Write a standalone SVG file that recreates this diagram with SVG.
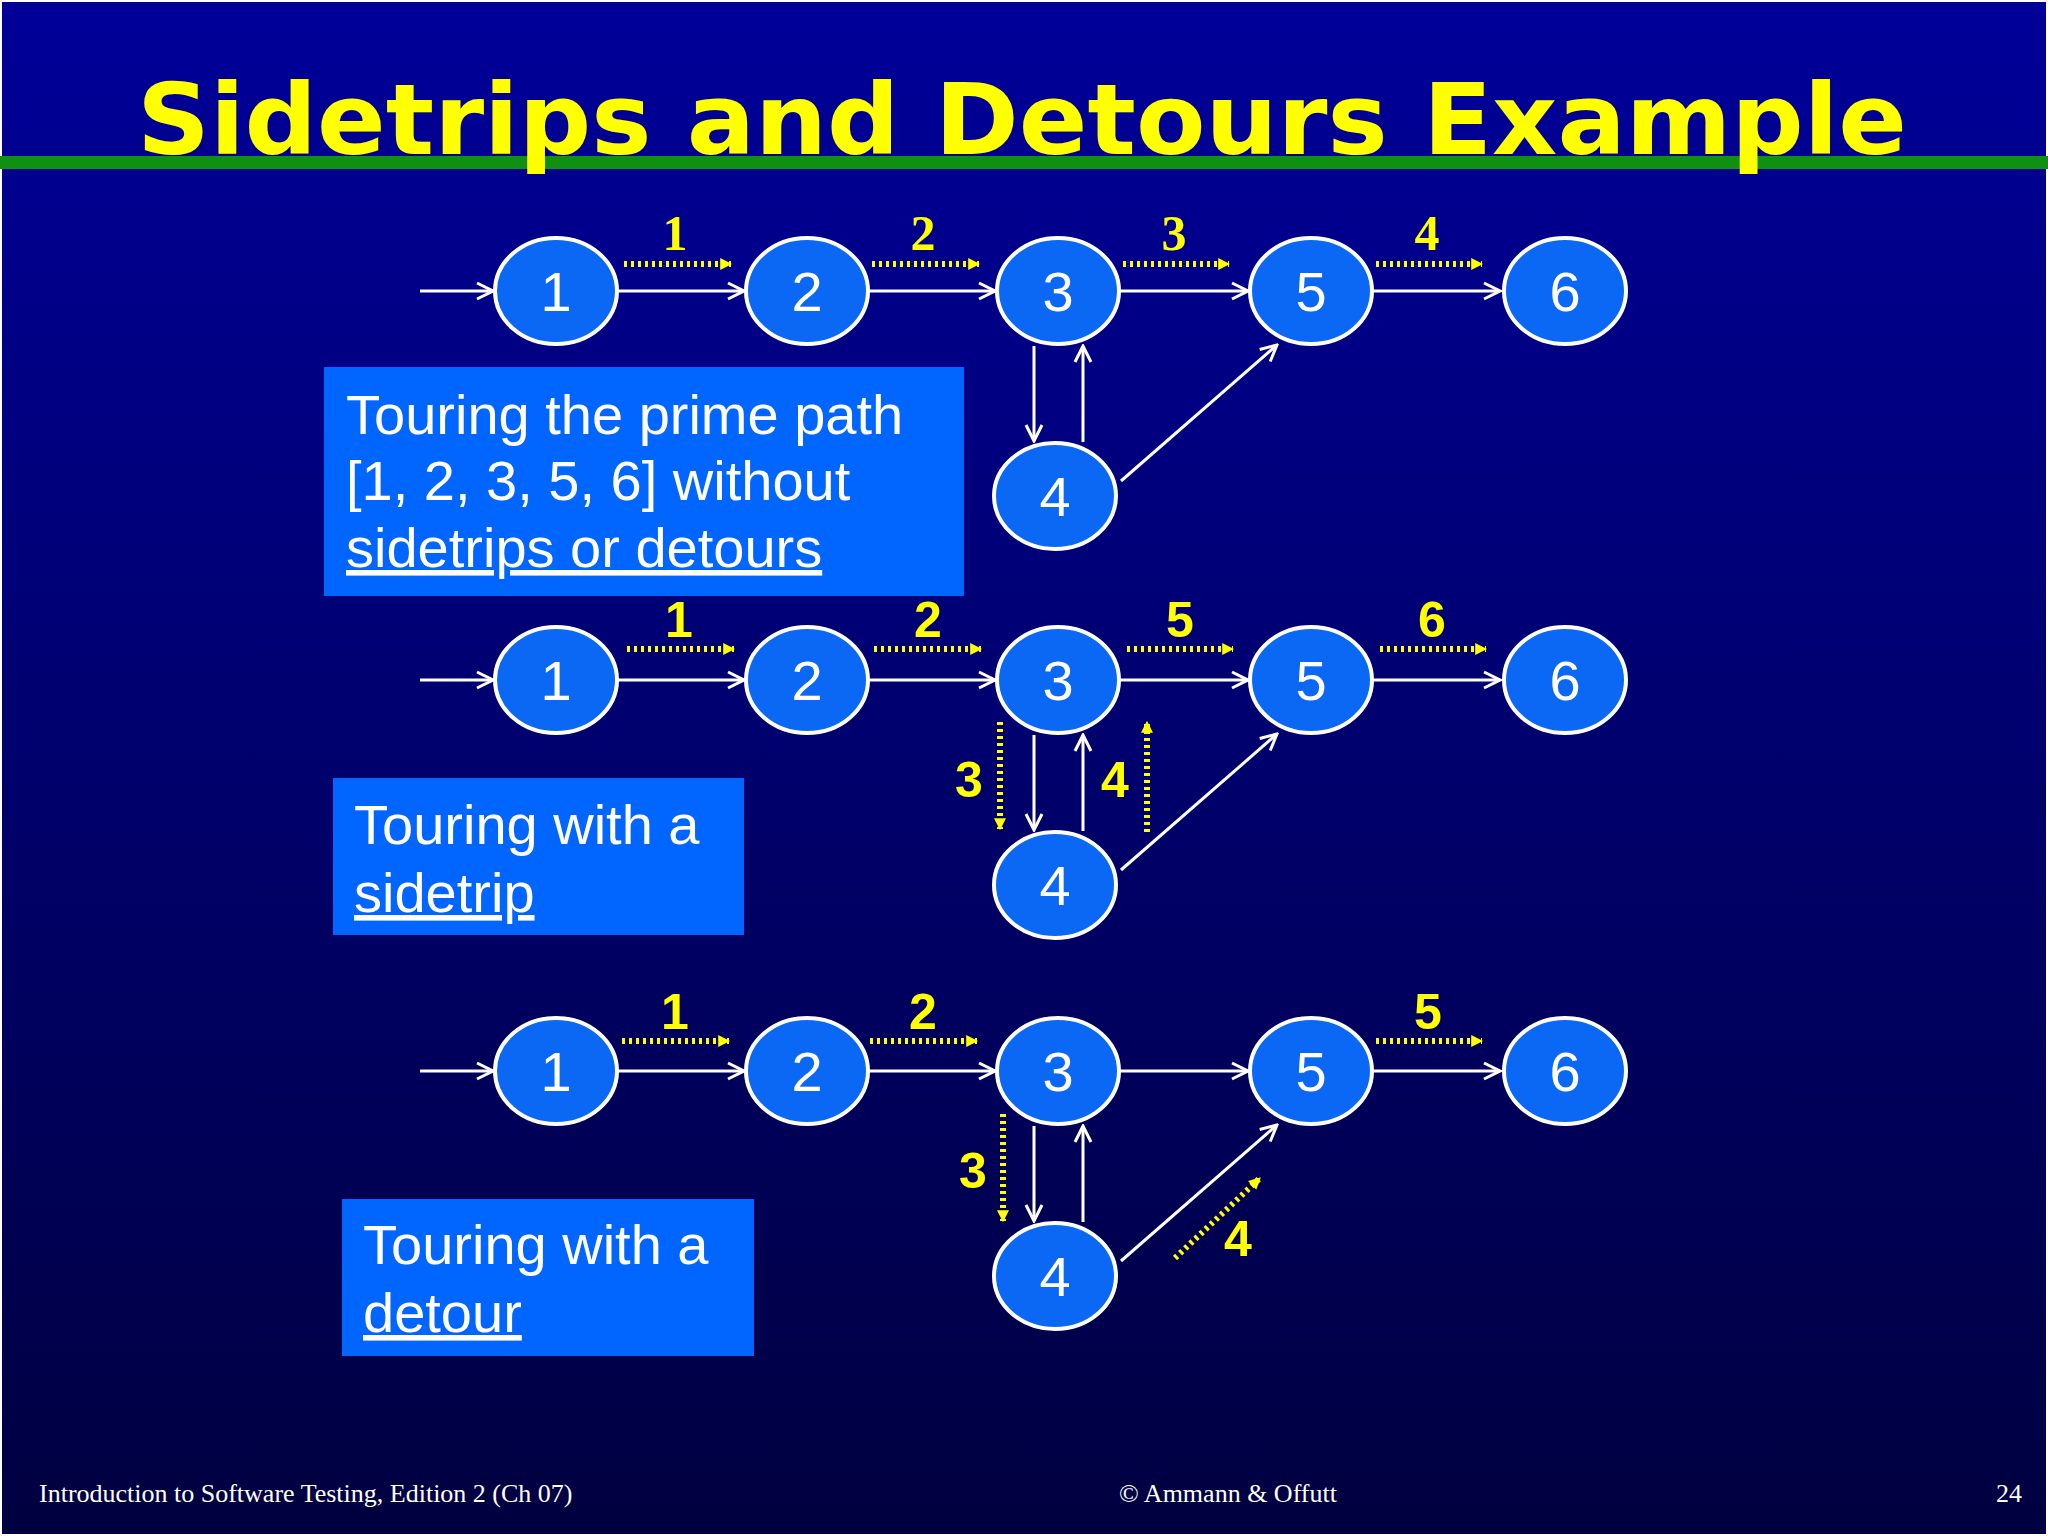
<svg xmlns="http://www.w3.org/2000/svg" width="2048" height="1536" viewBox="0 0 2048 1536">
<defs>
<linearGradient id="bg" x1="0" y1="0" x2="0" y2="1"><stop offset="0" stop-color="#000099"/><stop offset="1" stop-color="#000040"/></linearGradient>
<marker id="wa" viewBox="0 0 20 20" refX="18" refY="10" markerWidth="20" markerHeight="20" markerUnits="userSpaceOnUse" orient="auto"><path d="M2,2 L18,10 L2,18" fill="none" stroke="#fff" stroke-width="3"/></marker>
<marker id="ya" viewBox="0 0 10 10" refX="9" refY="5" markerWidth="12" markerHeight="14" markerUnits="userSpaceOnUse" orient="auto"><path d="M0,0 L10,5 L0,10 z" fill="#ffff00"/></marker>
</defs>
<style>
.n ellipse{fill:#0a68f5;stroke:#fff;stroke-width:4}
.n text{font-family:"Liberation Sans",Arial,sans-serif;font-size:56px;fill:#fff;text-anchor:middle}
.e{stroke:#fff;stroke-width:3;fill:none;marker-end:url(#wa)}
.d{stroke:#ffff00;stroke-width:6;stroke-dasharray:3 4;fill:none;marker-end:url(#ya)}
.ls{font-family:"Liberation Serif",serif;font-weight:bold;font-size:50px;fill:#ffff00;text-anchor:middle}
.lb{font-family:"Liberation Sans",Arial,sans-serif;font-weight:bold;font-size:50px;fill:#ffff00;text-anchor:middle}
.box{fill:#0066ff}
.bt{font-family:"Liberation Sans",Arial,sans-serif;font-size:56px;fill:#fff}
.ft{font-family:"Liberation Serif",serif;font-size:26px;fill:#fff}
</style>
<rect width="2048" height="1536" fill="url(#bg)"/>
<rect x="1" y="1" width="2046" height="1534" fill="none" stroke="#fff" stroke-width="2"/>
<rect x="0" y="156" width="2048" height="13" fill="#109010"/>
<text x="1022" y="154" text-anchor="middle" font-family="DejaVu Sans,Verdana,sans-serif" font-weight="bold" font-size="98" fill="#ffff00" textLength="1770" lengthAdjust="spacingAndGlyphs">Sidetrips and Detours Example</text>

<g id="box1"><rect class="box" x="324" y="367" width="640" height="229"/>
<text class="bt" x="346" y="434">Touring the prime path</text>
<text class="bt" x="346" y="500">[1, 2, 3, 5, 6] without</text>
<text class="bt" x="346" y="567" text-decoration="underline">sidetrips or detours</text></g>
<g id="box2"><rect class="box" x="333" y="778" width="411" height="157"/>
<text class="bt" x="354" y="844">Touring with a</text>
<text class="bt" x="354" y="912" text-decoration="underline">sidetrip</text></g>
<g id="box3"><rect class="box" x="342" y="1199" width="412" height="157"/>
<text class="bt" x="363" y="1264">Touring with a</text>
<text class="bt" x="363" y="1332" text-decoration="underline">detour</text></g>

<g id="connectors">
<!-- row1 -->
<path class="e" d="M420,291 H493"/><path class="e" d="M618,291 H744"/><path class="e" d="M869,291 H995"/><path class="e" d="M1120,291 H1248"/><path class="e" d="M1373,291 H1500"/>
<path class="e" d="M1034,346 V441"/><path class="e" d="M1083,442 V346"/><path class="e" d="M1121,481 L1277,345"/>
<path class="d" d="M624,264 H731"/><path class="d" d="M872,264 H979"/><path class="d" d="M1123,264 H1229"/><path class="d" d="M1376,264 H1482"/>
<!-- row2 -->
<path class="e" d="M420,680 H493"/><path class="e" d="M618,680 H744"/><path class="e" d="M869,680 H995"/><path class="e" d="M1120,680 H1248"/><path class="e" d="M1373,680 H1500"/>
<path class="e" d="M1034,735 V830"/><path class="e" d="M1083,831 V735"/><path class="e" d="M1121,870 L1277,734"/>
<path class="d" d="M627,649 H734"/><path class="d" d="M874,649 H981"/><path class="d" d="M1127,649 H1233"/><path class="d" d="M1380,649 H1486"/>
<path class="d" d="M1000,722 V829"/><path class="d" d="M1147,832 V722"/>
<!-- row3 -->
<path class="e" d="M420,1071 H493"/><path class="e" d="M618,1071 H744"/><path class="e" d="M869,1071 H995"/><path class="e" d="M1120,1071 H1248"/><path class="e" d="M1373,1071 H1500"/>
<path class="e" d="M1034,1126 V1221"/><path class="e" d="M1083,1222 V1126"/><path class="e" d="M1121,1261 L1277,1125"/>
<path class="d" d="M622,1041 H729"/><path class="d" d="M870,1041 H977"/><path class="d" d="M1376,1041 H1482"/>
<path class="d" d="M1003,1114 V1221"/><path class="d" d="M1175,1258 L1260,1178"/>
</g>

<g id="labels">
<text class="ls" x="675" y="250">1</text><text class="ls" x="923" y="250">2</text><text class="ls" x="1174" y="250">3</text><text class="ls" x="1427" y="250">4</text>
<text class="lb" x="679" y="637">1</text><text class="lb" x="928" y="637">2</text><text class="lb" x="1180" y="637">5</text><text class="lb" x="1432" y="637">6</text>
<text class="lb" x="969" y="797">3</text><text class="lb" x="1115" y="797">4</text>
<text class="lb" x="675" y="1029">1</text><text class="lb" x="923" y="1029">2</text><text class="lb" x="1428" y="1029">5</text>
<text class="lb" x="973" y="1188">3</text><text class="lb" x="1238" y="1256">4</text>
</g>

<g id="r1n1" class="n"><ellipse cx="556" cy="291" rx="61" ry="53"/><text x="556" y="311">1</text></g>
<g id="r1n2" class="n"><ellipse cx="807" cy="291" rx="61" ry="53"/><text x="807" y="311">2</text></g>
<g id="r1n3" class="n"><ellipse cx="1058" cy="291" rx="61" ry="53"/><text x="1058" y="311">3</text></g>
<g id="r1n5" class="n"><ellipse cx="1311" cy="291" rx="61" ry="53"/><text x="1311" y="311">5</text></g>
<g id="r1n6" class="n"><ellipse cx="1565" cy="291" rx="61" ry="53" stroke-width="8"/><text x="1565" y="311">6</text></g>
<g id="r1n4" class="n"><ellipse cx="1055" cy="496" rx="61" ry="53"/><text x="1055" y="516">4</text></g>

<g id="r2n1" class="n"><ellipse cx="556" cy="680" rx="61" ry="53"/><text x="556" y="700">1</text></g>
<g id="r2n2" class="n"><ellipse cx="807" cy="680" rx="61" ry="53"/><text x="807" y="700">2</text></g>
<g id="r2n3" class="n"><ellipse cx="1058" cy="680" rx="61" ry="53"/><text x="1058" y="700">3</text></g>
<g id="r2n5" class="n"><ellipse cx="1311" cy="680" rx="61" ry="53"/><text x="1311" y="700">5</text></g>
<g id="r2n6" class="n"><ellipse cx="1565" cy="680" rx="61" ry="53" stroke-width="8"/><text x="1565" y="700">6</text></g>
<g id="r2n4" class="n"><ellipse cx="1055" cy="885" rx="61" ry="53"/><text x="1055" y="905">4</text></g>

<g id="r3n1" class="n"><ellipse cx="556" cy="1071" rx="61" ry="53"/><text x="556" y="1091">1</text></g>
<g id="r3n2" class="n"><ellipse cx="807" cy="1071" rx="61" ry="53"/><text x="807" y="1091">2</text></g>
<g id="r3n3" class="n"><ellipse cx="1058" cy="1071" rx="61" ry="53"/><text x="1058" y="1091">3</text></g>
<g id="r3n5" class="n"><ellipse cx="1311" cy="1071" rx="61" ry="53"/><text x="1311" y="1091">5</text></g>
<g id="r3n6" class="n"><ellipse cx="1565" cy="1071" rx="61" ry="53" stroke-width="8"/><text x="1565" y="1091">6</text></g>
<g id="r3n4" class="n"><ellipse cx="1055" cy="1276" rx="61" ry="53"/><text x="1055" y="1296">4</text></g>

<text class="ft" x="39" y="1502">Introduction to Software Testing, Edition 2  (Ch 07)</text>
<text class="ft" x="1228" y="1502" text-anchor="middle">© Ammann &amp; Offutt</text>
<text class="ft" x="2022" y="1502" text-anchor="end">24</text>
</svg>
